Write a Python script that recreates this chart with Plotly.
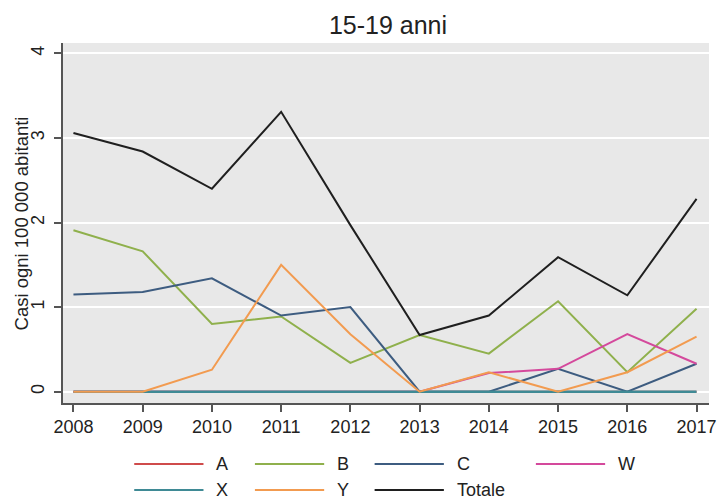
import plotly.graph_objects as go

years = [2008, 2009, 2010, 2011, 2012, 2013, 2014, 2015, 2016, 2017]

A = [0, 0, 0, 0, 0, 0, 0, 0, 0, 0]
B = [1.91, 1.66, 0.80, 0.89, 0.34, 0.67, 0.45, 1.07, 0.23, 0.98]
C = [1.15, 1.18, 1.34, 0.90, 1.00, 0, 0, 0.27, 0, 0.33]
W = [0, 0, 0, 0, 0, 0, 0.22, 0.27, 0.68, 0.33]
X = [0, 0, 0, 0, 0, 0, 0, 0, 0, 0]
Y = [0, 0, 0.26, 1.50, 0.68, 0, 0.23, 0, 0.23, 0.65]
Totale = [3.06, 2.84, 2.40, 3.31, 1.97, 0.67, 0.90, 1.59, 1.14, 2.28]

series_names = ["A", "B", "C", "W", "X", "Y", "Totale"]
series_values = [A, B, C, W, X, Y, Totale]
series_colors = ["#cf4b4b", "#8fb04c", "#3d5c80", "#d4499c", "#3f8a95", "#f29b50", "#1f1f1f"]

title_text = "15-19 anni"
y_title = "Casi ogni 100 000 abitanti"
y_ticks = [0, 1, 2, 3, 4]

FONT = "Liberation Sans, Arial, sans-serif"

fig = go.Figure()
for name, vals, col in zip(series_names, series_values, series_colors):
    fig.add_trace(go.Scatter(x=years, y=vals, mode="lines", name=name,
                             line=dict(color=col, width=2.5 if name == "X" else 2),
                             showlegend=False, hoverinfo="skip"))

# plot area in pixels
L, R, T, Bm = 63, 716, 43, 403
W_px, H_px = 724, 499

def px2paper_x(px):
    return (px - L) / (R - L)

def px2paper_y(py):
    return (Bm - py) / (Bm - T)

shapes = []
annotations = []
# manual legend: 4 columns x 2 rows
col_line_start = [135, 257, 378, 541]
row_y = [464, 490]
for i, (name, col) in enumerate(zip(series_names, series_colors)):
    r, c = divmod(i, 4)
    x0 = col_line_start[c]
    y = row_y[r]
    shapes.append(dict(type="line", xref="paper", yref="paper",
                       x0=px2paper_x(x0), x1=px2paper_x(x0 + 70),
                       y0=px2paper_y(y), y1=px2paper_y(y),
                       line=dict(color=col, width=2)))
    annotations.append(dict(text=name, xref="paper", yref="paper",
                            x=px2paper_x(x0 + 81), y=px2paper_y(y),
                            xanchor="left", yanchor="middle", showarrow=False,
                            font=dict(family=FONT, size=18, color="#222222")))

# y axis title as rotated annotation
annotations.append(dict(text=y_title, xref="paper", yref="paper",
                        x=px2paper_x(21), y=0.5, textangle=-90,
                        xanchor="center", yanchor="middle", showarrow=False,
                        font=dict(family=FONT, size=18.5, color="#222222")))

fig.update_layout(
    width=W_px, height=H_px,
    margin=dict(l=L, r=W_px - R, t=T, b=H_px - Bm, pad=0),
    paper_bgcolor="white",
    plot_bgcolor="#e8e8e8",
    title=dict(text=title_text, x=388 / W_px, xanchor="center",
               y=1 - 25 / H_px, yanchor="middle", yref="container",
               font=dict(family=FONT, size=25, color="#222222")),
    shapes=shapes,
    annotations=annotations,
    showlegend=False,
    hovermode=False,
    font=dict(family=FONT, color="#222222"),
)

fig.update_xaxes(
    range=[2007.849, 2017.18],
    tickmode="array", tickvals=years, ticktext=[str(y) for y in years],
    ticks="outside", ticklen=7, tickwidth=1.5, tickcolor="#555555",
    showline=True, linecolor="#555555", linewidth=1.5,
    showgrid=False, zeroline=False,
    tickfont=dict(family=FONT, size=18, color="#222222"),
)
fig.update_yaxes(
    range=[-0.134, 4.124],
    tickmode="array", tickvals=y_ticks, ticktext=[str(v) for v in y_ticks],
    tickangle=-90,
    ticks="outside", ticklen=7, tickwidth=1.5, tickcolor="#555555",
    showline=True, linecolor="#555555", linewidth=1.5,
    showgrid=True, gridcolor="white", gridwidth=1.5,
    zeroline=False, ticklabelstandoff=3,
    tickfont=dict(family=FONT, size=18, color="#222222"),
)

fig.write_html("out.html", config={"displayModeBar": False},
               post_script="document.body.style.margin='0';document.body.style.padding='0';")
